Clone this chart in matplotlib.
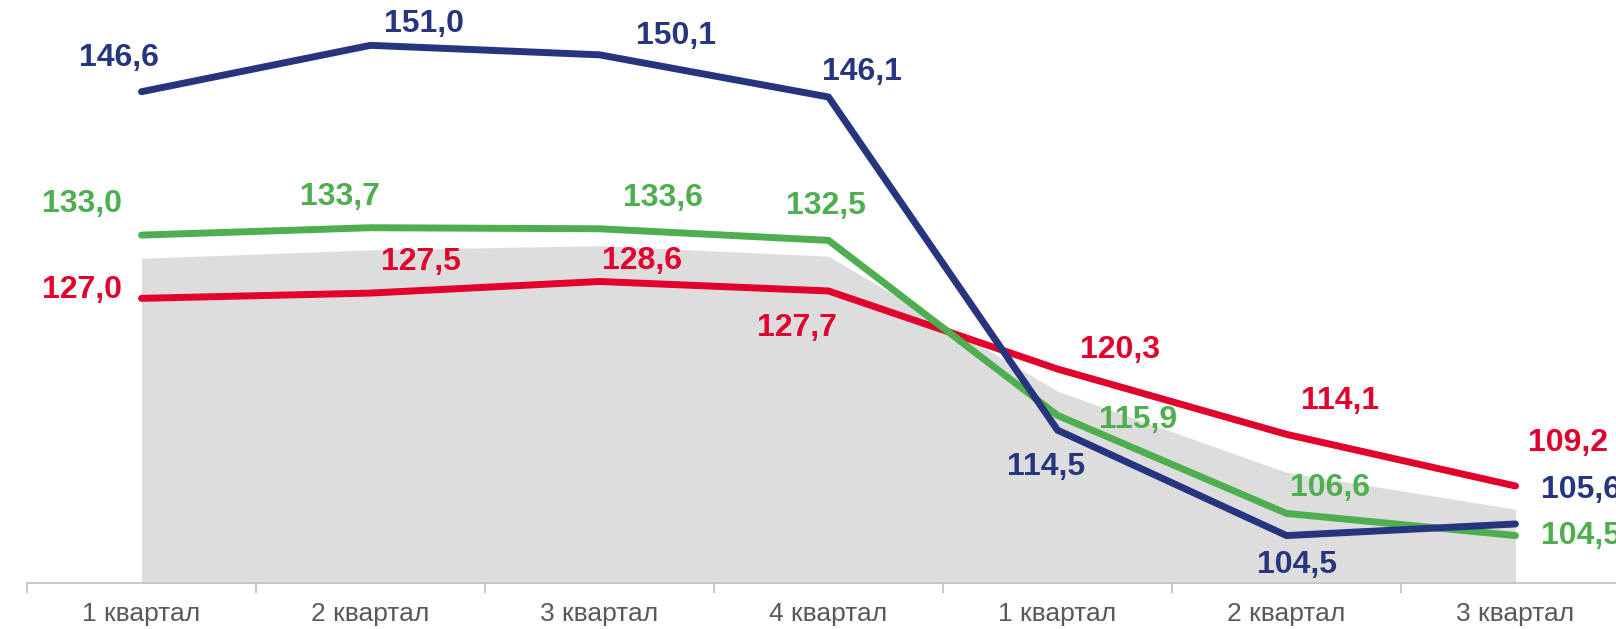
import matplotlib.pyplot as plt
import numpy as np

plt.rcParams['font.family'] = ['Liberation Sans', 'DejaVu Sans']

categories = ['1 квартал', '2 квартал', '3 квартал', '4 квартал',
              '1 квартал', '2 квартал', '3 квартал']
blue_vals = [146.6, 151.0, 150.1, 146.1, 114.5, 104.5, 105.6]
green_vals = [133.0, 133.7, 133.6, 132.5, 115.9, 106.6, 104.5]
red_vals = [127.0, 127.5, 128.6, 127.7, 120.3, 114.1, 109.2]
grey_vals = [130.8, 131.6, 132.0, 131.0, 118.2, 110.5, 107.0]

# label offsets in pixels (dx, dy) relative to each point
blue_off = [(-23, 34), (54, 21), (76, 19), (33, 25), (-11, -37), (10, -29), (65, 34)]
green_off = [(-59, 31), (-31, 31), (63, 31), (-3, 34), (81, -5), (43, 25), (65, 0)]
red_off = [(-59, 8), (50, 31), (42, 20), (-32, -37), (63, 19), (54, 33), (52, 43)]

c_blue = '#27357f'
c_green = '#4fae4f'
c_red = '#e2002c'
c_grey = '#dddddd'

fig = plt.figure(figsize=(16.16, 6.29), dpi=100)
ax = fig.add_axes([27 / 1616, 46 / 629, 1603 / 1616, 583 / 629])
x = np.arange(len(categories))

ax.fill_between(x, 100, grey_vals, color=c_grey, lw=0, zorder=1)
for vals, col in [(red_vals, c_red), (green_vals, c_green), (blue_vals, c_blue)]:
    ax.plot(x, vals, color=col, lw=5, solid_capstyle='round', zorder=3)

def fmt(v):
    return f'{v:.1f}'.replace('.', ',')

for vals, offs, col in [(blue_vals, blue_off, c_blue), (green_vals, green_off, c_green),
                        (red_vals, red_off, c_red)]:
    for xi, v, (dx, dy) in zip(x, vals, offs):
        ax.annotate(fmt(v), (xi, v), xytext=(dx, dy), textcoords='offset pixels',
                    ha='center', va='center', color=col, fontsize=23,
                    fontweight='bold', zorder=4, annotation_clip=False)

ax.set_xlim(-0.5, len(categories) - 0.5)
ax.set_ylim(100, 155.3)
ax.set_xticks(x)
ax.set_xticklabels(categories, fontsize=19, color='#595959')
ax.set_xticks(np.arange(-0.5, len(categories), 1), minor=True)
ax.tick_params(axis='x', which='major', length=0, pad=14)
ax.tick_params(axis='x', which='minor', length=7, width=1.2, color='#bfbfbf')
ax.set_yticks([])
for s in ['top', 'right', 'left']:
    ax.spines[s].set_visible(False)
ax.spines['bottom'].set_color('#bfbfbf')
ax.spines['bottom'].set_linewidth(1.2)
ax.spines['bottom'].set_zorder(5)

fig.savefig('out.png', dpi=100)
